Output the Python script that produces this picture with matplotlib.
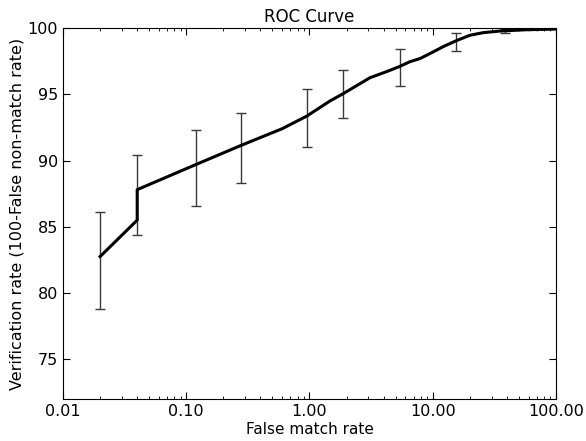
import matplotlib
matplotlib.use("Agg")
import matplotlib.pyplot as plt
import matplotlib.ticker as ticker
import numpy as np

# ROC curve (false match rate in %, verification rate in %)
fmr = [0.02, 0.04, 0.04, 0.12, 0.28, 0.6, 0.95, 1.47, 1.88, 3.1, 4.2, 5.4,
       6.5, 7.9, 10.1, 12.2, 15.6, 20.0, 25.7, 35.1, 57.8, 100.0]
vr = [82.75, 85.5, 87.8, 89.7, 91.15, 92.4, 93.35, 94.5, 95.05, 96.25, 96.7, 97.1,
      97.45, 97.7, 98.2, 98.6, 99.05, 99.45, 99.65, 99.77, 99.87, 99.92]

# error bars
err_x = [0.02, 0.04, 0.12, 0.28, 0.95, 1.88, 5.4, 15.4, 38.6]
err_center = [82.75, 87.4, 89.7, 91.15, 93.35, 95.05, 97.1, 99.0, 99.78]
err_low = [78.8, 84.4, 86.6, 88.3, 91.0, 93.2, 95.6, 98.3, 99.6]
err_high = [86.1, 90.4, 92.3, 93.6, 95.4, 96.8, 98.4, 99.6, 99.95]

yticks = [75, 80, 85, 90, 95, 100]
xticks = [0.01, 0.1, 1, 10, 100]

fig = plt.figure(figsize=(5.86, 4.41), dpi=100)
ax = fig.add_axes([0.1075, 0.0952, 0.8413, 0.8413])

yerr = [np.array(err_center) - np.array(err_low),
        np.array(err_high) - np.array(err_center)]
ax.errorbar(err_x, err_center, yerr=yerr, fmt="none", ecolor="#3a3a3a",
            elinewidth=1.0, capsize=3.5, capthick=1.0)
ax.plot(fmr, vr, color="black", linewidth=2.2)

ax.set_xscale("log")
ax.set_xlim(0.01, 100)
ax.set_ylim(72, 100)
ax.set_xticks(xticks)
ax.xaxis.set_major_formatter(ticker.FormatStrFormatter("%.2f"))
ax.xaxis.set_minor_formatter(ticker.NullFormatter())
ax.set_yticks(yticks)

ax.tick_params(which="both", direction="in", top=True, right=True, labelsize=11.5, pad=3.5)
ax.tick_params(which="major", length=5)
ax.tick_params(which="minor", length=2.5)

ax.set_title("ROC Curve", fontsize=12, pad=4)
ax.set_xlabel("False match rate", fontsize=11, labelpad=2)
ax.set_ylabel("Verification rate (100-False non-match rate)", fontsize=11.5, labelpad=2)

fig.savefig("out.png", dpi=100)
